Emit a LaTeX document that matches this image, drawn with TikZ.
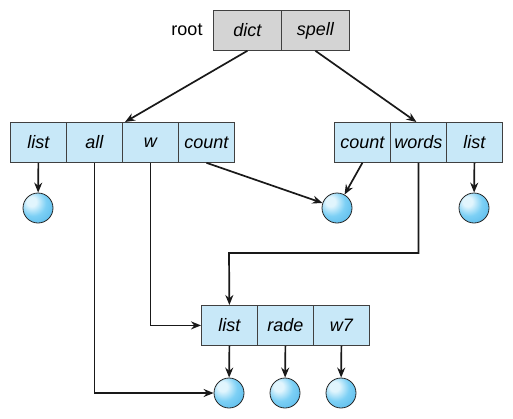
\documentclass[tikz,border=0pt]{standalone}
\usepackage{fontspec}
\setmainfont{Liberation Sans}
\usetikzlibrary{arrows.meta}
\definecolor{cellblue}{RGB}{200,232,248}
\definecolor{rootgray}{RGB}{212,212,212}
\definecolor{ballhl}{RGB}{225,245,253}
\definecolor{ballmid}{RGB}{125,208,245}
\definecolor{balledge}{RGB}{55,165,225}
\pgfdeclareradialshading{blueball}{\pgfpoint{-12bp}{12bp}}{color(0bp)=(ballhl); color(8bp)=(ballhl); color(22bp)=(ballmid); color(55bp)=(balledge); color(80bp)=(balledge)}
\begin{document}
\begin{tikzpicture}[x=1pt,y=-1pt,
  cell/.style={draw=black!75, line width=0.8pt, fill=cellblue, minimum width=56pt, minimum height=40pt, inner sep=0pt, font=\fontsize{18}{20}\selectfont\itshape, anchor=north west},
  rcell/.style={cell, fill=rootgray, minimum width=68pt},
  ball/.style={circle, minimum size=30pt, inner sep=0pt, draw=black!85, line width=0.8pt, shading=blueball},
  conn/.style={line width=1.7pt, draw=black!90},
  arr/.style={conn, -{Stealth[length=10pt,width=8pt]}}]
\useasboundingbox (0,0) rectangle (513,418);
% root
\node[font=\fontsize{18}{20}\selectfont] (rootlbl) at (187,30) {root};
\node[rcell] (dict) at (213,10) {dict};
\node[rcell] (spell) at (281,10) {spell};
% left box
\node[cell] (Llist) at (10,122) {list};
\node[cell] (Lall) at (66,122) {all};
\node[cell] (Lw) at (122,122) {w};
\node[cell] (Lcount) at (178,122) {count};
% right box
\node[cell] (Rcount) at (334,122) {count};
\node[cell] (Rwords) at (390,122) {words};
\node[cell] (Rlist) at (446,122) {list};
% middle box
\node[cell] (Mlist) at (201,305) {list};
\node[cell] (Mrade) at (257,305) {rade};
\node[cell] (Mw) at (313,305) {w7};
% balls
\node[ball] (CL) at (38,208) {};
\node[ball] (CM) at (337,208) {};
\node[ball] (CR) at (474,208) {};
\node[ball] (B1) at (229,393) {};
\node[ball] (B2) at (285,393) {};
\node[ball] (B3) at (341,393) {};
% connectors
\draw[arr] (dict.south) -- ([xshift=3pt]Lw.north west);
\draw[arr] (spell.south) -- ([xshift=-2pt]Rwords.north);
\draw[arr] (Llist.south) -- (CL);
\draw[arr] (Lcount.south) -- (CM);
\draw[arr] (Rcount.south) -- (CM);
\draw[arr] (Rlist.south) -- (CR);
\coordinate (bend) at (229,253);
\draw[arr] (Rwords.south) |- (bend) -- (Mlist.north);
\draw[arr] (Lw.south) |- (Mlist.west);
\draw[arr] (Lall.south) |- (B1);
\draw[arr] (Mlist.south) -- (B1);
\draw[arr] (Mrade.south) -- (B2);
\draw[arr] (Mw.south) -- (B3);
\end{tikzpicture}
\end{document}
